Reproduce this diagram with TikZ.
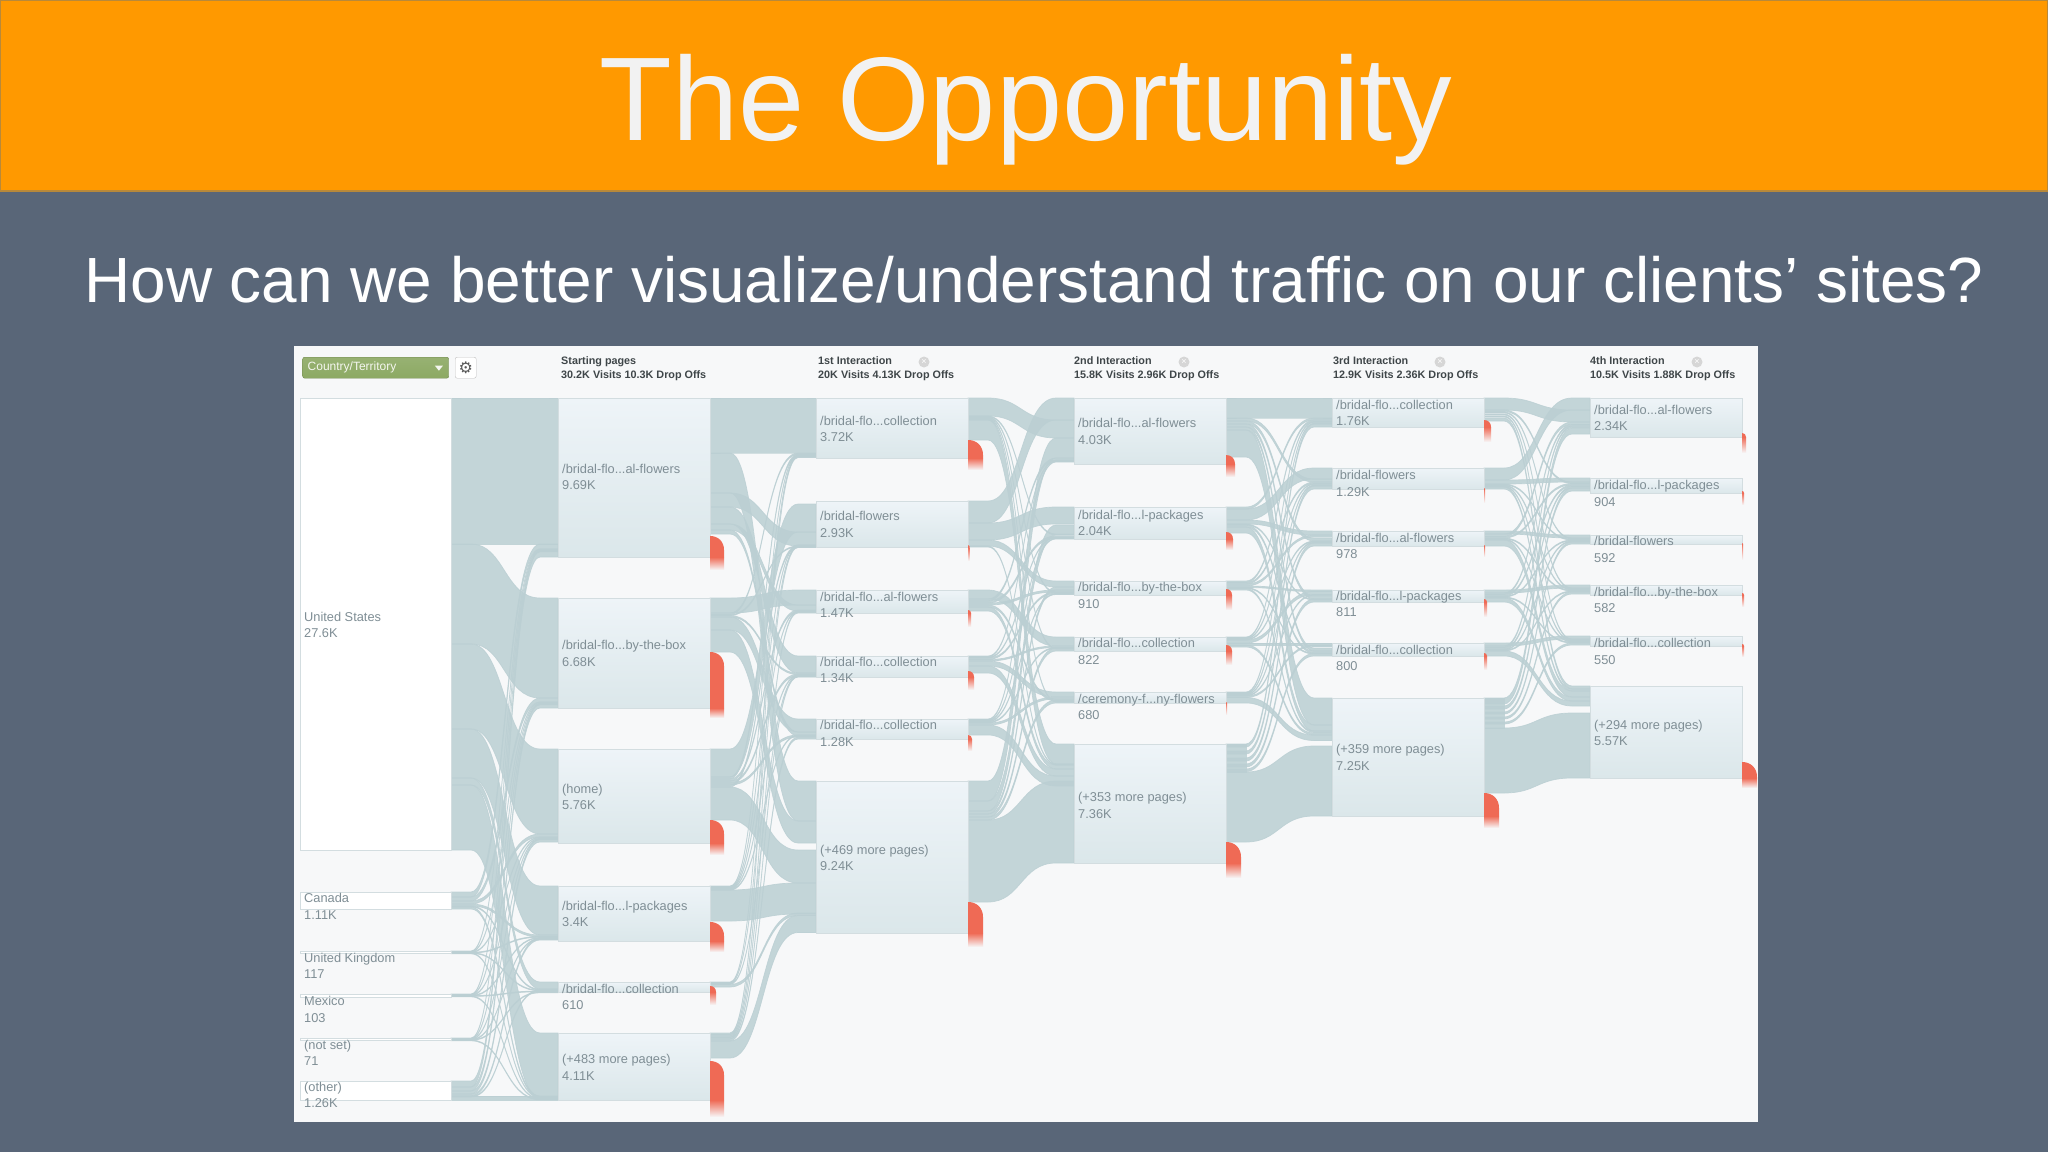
\documentclass[tikz,border=0pt]{standalone}
\usepackage{fontspec}
\setmainfont[Ligatures=NoCommon]{Liberation Sans}
\newfontfamily\symfont{DejaVu Sans}
\usetikzlibrary{calc}
\definecolor{slide}{HTML}{596678}
\definecolor{banner}{HTML}{FF9900}
\definecolor{bannerline}{HTML}{B8893A}
\definecolor{panel}{HTML}{F7F8F9}
\definecolor{flow}{HTML}{BBCFD3}
\definecolor{boxtop}{HTML}{EEF4F8}
\definecolor{boxbot}{HTML}{DBE7EA}
\definecolor{boxline}{HTML}{D3DDE0}
\definecolor{dropred}{HTML}{EF6A55}
\definecolor{pagegrey}{HTML}{7F8E95}
\definecolor{headgrey}{HTML}{3F4649}
\definecolor{pickgreen}{HTML}{8CA963}
\tikzset{
  flowfill/.style={fill=flow,draw=flow,line width=.7pt,opacity=.85},
  pagebox/.style={anchor=north west,inner sep=0pt,outer sep=0pt,minimum width=152pt,draw=boxline,top color=boxtop,bottom color=boxbot},
  countrybox/.style={pagebox,minimum width=151pt,top color=white,bottom color=white},
  pagetext/.style={anchor=west,inner sep=0pt,align=left,text=pagegrey,font=\fontsize{12.8}{16.5}\selectfont},
  headtext/.style={anchor=west,inner sep=0pt,align=left,text=headgrey,font=\bfseries\fontsize{10.8}{14}\selectfont},
  closemark/.style={circle,fill=black!16,inner sep=0pt,minimum size=11pt,text=white,font=\fontsize{9}{9}\selectfont}
}
% band from one box to a box of the next column, offsets from the box tops
\newcommand{\flowband}[5]{%
  \path[flowfill] let \p1=($(#1.north east)+(0,#2)$), \p2=($(#3.north west)+(0,#4)$), \n1={(\x1+\x2)/2} in
    (\x1,\y1) -- (\x1+20pt,\y1) .. controls (\n1,\y1) and (\n1,\y2) .. (\x2-18pt,\y2) -- (\x2,\y2)
    -- (\x2,\y2-#5pt) -- (\x2-18pt,\y2-#5pt) .. controls (\n1,\y2-#5pt) and (\n1,\y1-#5pt) .. (\x1+20pt,\y1-#5pt) -- (\x1,\y1-#5pt) -- cycle;}
\newcommand{\flowstub}[3]{\path[flowfill] ($(#1.north east)+(0,#2)$) rectangle ($(#1.north east)+(20,#3)$);}
\newcommand{\dropoff}[4]{%
  \fill[dropred] (#1.south east) -- ++(0,-#3) .. controls +(.6*#2,0) and +(0,-.6*#2) .. ++(#2,#2) -- ($(#1.south east)+(#2,0)$) -- cycle;
  \shade[top color=dropred,bottom color=panel] (#1.south east) rectangle ($(#1.south east)+(#2,#4)$);}
\newcommand{\pagenode}[7][pagebox]{%
  \node (#2) [#1,minimum height=#5pt] at (#3,#4) {};
  \node (#2t) [pagetext] at (#3+4,#6) {#7};}
\begin{document}
\begin{tikzpicture}[x=1pt,y=-1pt]
\useasboundingbox (0,0) rectangle (2048,1152);
\fill[slide] (0,0) rectangle (2048,1152);
\fill[banner] (0,0) rectangle (2048,191);
\draw[bannerline,line width=1.5pt] (.5,.5) rectangle (2047.5,191);
\node (title) [anchor=base,text=white!95!black,inner sep=0pt,font=\fontsize{119}{119}\selectfont] at (1026,140) {The Opportunity};
\node (question) [anchor=base,text=white,inner sep=0pt,font=\fontsize{63.9}{64}\selectfont] at (1034,302) {How can we better visualize/understand traffic on our clients’ sites?};
\fill[panel] (294,346) rectangle (1758,1122);
% boxes first only for their names, painted again over the bands below
\begin{scope}[opacity=0]
\node (c1) [countrybox,minimum height=452pt] at (300,398) {};
\node (c2) [countrybox,minimum height=17pt] at (300,892) {};
\node (c3) [countrybox,minimum height=2pt] at (300,951) {};
\node (c4) [countrybox,minimum height=3pt] at (300,994) {};
\node (c5) [countrybox,minimum height=2pt] at (300,1038) {};
\node (c6) [countrybox,minimum height=19pt] at (300,1081) {};
\node (s1) [pagebox,minimum height=159pt] at (558,398) {};
\node (s2) [pagebox,minimum height=110pt] at (558,598) {};
\node (s3) [pagebox,minimum height=94pt] at (558,749) {};
\node (s4) [pagebox,minimum height=55pt] at (558,886) {};
\node (s5) [pagebox,minimum height=10pt] at (558,982) {};
\node (s6) [pagebox,minimum height=67pt] at (558,1033) {};
\node (f1) [pagebox,minimum height=60pt] at (816,398) {};
\node (f2) [pagebox,minimum height=46pt] at (816,501) {};
\node (f3) [pagebox,minimum height=23pt] at (816,590) {};
\node (f4) [pagebox,minimum height=21pt] at (816,656) {};
\node (f5) [pagebox,minimum height=20pt] at (816,719) {};
\node (f6) [pagebox,minimum height=152pt] at (816,781) {};
\node (g1) [pagebox,minimum height=66pt] at (1074,398) {};
\node (g2) [pagebox,minimum height=32pt] at (1074,507) {};
\node (g3) [pagebox,minimum height=14pt] at (1074,581) {};
\node (g4) [pagebox,minimum height=14pt] at (1074,637) {};
\node (g5) [pagebox,minimum height=11pt] at (1074,692) {};
\node (g6) [pagebox,minimum height=119pt] at (1074,744) {};
\node (h1) [pagebox,minimum height=29pt] at (1332,398) {};
\node (h2) [pagebox,minimum height=21pt] at (1332,468) {};
\node (h3) [pagebox,minimum height=15pt] at (1332,531) {};
\node (h4) [pagebox,minimum height=12pt] at (1332,590) {};
\node (h5) [pagebox,minimum height=13pt] at (1332,643) {};
\node (h6) [pagebox,minimum height=118pt] at (1332,698) {};
\node (i1) [pagebox,minimum height=39pt] at (1590,398) {};
\node (i2) [pagebox,minimum height=15pt] at (1590,478) {};
\node (i3) [pagebox,minimum height=9pt] at (1590,535) {};
\node (i4) [pagebox,minimum height=10pt] at (1590,585) {};
\node (i5) [pagebox,minimum height=10pt] at (1590,636) {};
\node (i6) [pagebox,minimum height=92pt] at (1590,686) {};
\end{scope}
% countries to starting pages
\foreach \src/\so/\dst/\dof/\bw in {
  c1/0/s1/0/146, c1/146/s2/0/100, c1/246/s3/0/85, c1/331/s4/0/49, c1/380/s5/0/7, c1/387/s6/0/65,
  c2/0/s1/146/5, c2/5/s2/100/4, c2/9/s3/85/3, c2/12/s4/49/2, c2/14/s5/7/1, c2/15/s6/63/2,
  c6/0/s1/153/6, c6/6/s2/106/4, c6/10/s3/90/3, c6/13/s4/52/2, c6/15/s5/8/1, c6/15/s6/63/4}
  {\flowband{\src}{\so}{\dst}{\dof}{\bw}}
\foreach \src/\k in {c3/0,c4/1,c5/2}
  \foreach \dst/\so/\dof in {s1/0/151, s2/.4/104, s3/.8/88, s4/1.2/50.5, s5/1.6/8, s6/2/64}
    {\flowband{\src}{\so}{\dst}{\dof+\k}{.8}}
% starting pages to 1st interaction
\foreach \src/\so/\dst/\dof/\bw in {
  s1/0/f1/0/55, s1/55/f6/0/40, s1/95/f2/31/14, s1/109/f4/0/17, s1/126/f3/15/6, s1/132/f5/13/4,
  s2/0/f3/0/15, s2/15/f1/55/1.5, s2/16.5/f2/45/1, s2/17.5/f4/17/1.5, s2/19/f5/0/13, s2/32/f6/40/22,
  s3/0/f2/3/28, s3/28/f1/56/2, s3/30/f3/20/2, s3/32/f4/18/2, s3/34/f5/16/2, s3/36/f2/44/2, s3/38/f6/69/33,
  s4/0/f1/57/1, s4/.8/f2/44/1, s4/1.6/f3/21/1, s4/2.4/f4/19/1, s4/3.2/f5/16/1, s4/4/f6/102/31,
  s5/0/f1/58/.8, s5/.8/f2/45/.8, s5/1.6/f4/20/.8, s5/2.4/f6/132/2.6,
  s6/0/f1/58/1.5, s6/1.5/f2/45/1.5, s6/3/f3/21.5/1.5, s6/4.5/f4/19.5/1.5, s6/6/f5/18/2, s6/8/f6/134.5/17}
  {\flowband{\src}{\so}{\dst}{\dof}{\bw}}
% 1st to 2nd interaction
\foreach \src/\so/\dst/\dof/\bw in {
  f1/0/g1/22/18, f1/18/g2/27/1, f1/19/g3/11/1, f1/20/g4/11/1, f1/21/g5/9/1, f1/22/g6/0/20,
  f2/0/g1/0/22, f2/22/g2/0/17, f2/39/g3/0/6, f2/45/g6/20/1,
  f3/0/g4/0/9, f3/9/g1/60/2, f3/11/g2/29/2, f3/13/g3/9/2, f3/15/g5/7/2, f3/17/g6/21/4,
  f4/0/g1/62/1, f4/1/g2/30/1, f4/2/g3/11/1.5, f4/3.5/g4/9/1.5, f4/5/g5/0/5, f4/10/g6/25/7,
  f5/0/g1/63/1, f5/1/g2/31/1, f5/2/g3/12.5/1, f5/3/g4/10.5/1, f5/4/g5/5/2, f5/6/g6/32/10,
  f6/0/g1/40/20, f6/20/g2/18/10, f6/30/g3/6/3, f6/33/g4/11/3, f6/36/g5/8/3, f6/39/g6/37/82}
  {\flowband{\src}{\so}{\dst}{\dof}{\bw}}
% 2nd to 3rd interaction
\flowstub{g6}{0}{28}
\foreach \src/\so/\dst/\dof/\bw in {
  g1/0/h1/0/20, g1/20/h2/11/3, g1/23/h3/7/3, g1/26/h4/6/3, g1/29/h5/5/3, g1/32/h6/0/27,
  g2/0/h1/20/2, g2/2/h2/0/11, g2/13/h3/0/4, g2/17/h4/9/1, g2/18/h5/8/2, g2/20/h6/27/6,
  g3/0/h1/22/1.5, g3/1.5/h2/14/1.5, g3/3/h3/4/2, g3/5/h4/0/1.5, g3/6.5/h5/10/1, g3/7.5/h6/33/1.5,
  g4/0/h1/23.5/1, g4/1/h2/15.5/1, g4/2/h3/10/1, g4/3/h4/1.5/3, g4/6/h5/0/2, g4/8/h6/35/2,
  g5/0/h1/25/1, g5/1/h2/17/1, g5/2/h3/11/1, g5/3/h4/4.5/1, g5/4/h5/2/1.5, g5/5.5/h6/37/5.5,
  g6/0/h1/26/3, g6/7/h2/18/3, g6/14/h3/12/3, g6/20/h4/9/3, g6/25/h5/10.5/2.5, g6/28/h6/48/70}
  {\flowband{\src}{\so}{\dst}{\dof}{\bw}}
% 3rd to 4th interaction
\flowstub{h6}{0}{30}
\foreach \src/\so/\dst/\dof/\bw in {
  h1/0/i1/12/12, h1/12/i2/4/1.5, h1/14/i3/3/1, h1/16/i4/3/1, h1/18/i5/3/1, h1/20/i6/0/3,
  h2/0/i1/0/12, h2/12/i2/0/4, h2/16/i3/4/1, h2/17/i4/4/1, h2/18/i5/4/1, h2/19/i6/3/2,
  h3/0/i3/0/3, h3/3/i1/24/2.5, h3/5.5/i2/5.5/1.5, h3/7/i4/5/1, h3/8/i5/5/1, h3/9/i6/5/6,
  h4/0/i4/0/3, h4/3/i1/26.5/1.5, h4/4.5/i2/7/1.5, h4/6/i3/5/1, h4/7/i5/6/1, h4/8/i6/11/4,
  h5/0/i5/0/3, h5/3/i1/28/1.5, h5/4.5/i2/8.5/1.5, h5/6/i3/6/1, h5/7/i4/6/1, h5/8/i6/15/5,
  h6/0/i1/30/6, h6/8/i2/10/3, h6/14/i3/7/2, h6/19/i4/7/2, h6/24/i5/7/2, h6/30/i6/27/65}
  {\flowband{\src}{\so}{\dst}{\dof}{\bw}}
% boxes and their labels
\pagenode[countrybox]{c1}{300}{398}{452}{625}{United States\\27.6K}
\pagenode[countrybox]{c2}{300}{892}{17}{906.5}{Canada\\1.11K}
\pagenode[countrybox]{c3}{300}{951}{2}{966}{United Kingdom\\117}
\pagenode[countrybox]{c4}{300}{994}{3}{1009.5}{Mexico\\103}
\pagenode[countrybox]{c5}{300}{1038}{2}{1053}{(not set)\\71}
\pagenode[countrybox]{c6}{300}{1081}{19}{1095}{(other)\\1.26K}
\pagenode{s1}{558}{398}{159}{477}{/bridal-flo...al-flowers\\9.69K}
\pagenode{s2}{558}{598}{110}{653.5}{/bridal-flo...by-the-box\\6.68K}
\pagenode{s3}{558}{749}{94}{797}{(home)\\5.76K}
\pagenode{s4}{558}{886}{55}{914}{/bridal-flo...l-packages\\3.4K}
\pagenode{s5}{558}{982}{10}{997}{/bridal-flo...collection\\610}
\pagenode{s6}{558}{1033}{67}{1067.5}{(+483 more pages)\\4.11K}
\pagenode{f1}{816}{398}{60}{429}{/bridal-flo...collection\\3.72K}
\pagenode{f2}{816}{501}{46}{524.5}{/bridal-flowers\\2.93K}
\pagenode{f3}{816}{590}{23}{605}{/bridal-flo...al-flowers\\1.47K}
\pagenode{f4}{816}{656}{21}{670}{/bridal-flo...collection\\1.34K}
\pagenode{f5}{816}{719}{20}{733.5}{/bridal-flo...collection\\1.28K}
\pagenode{f6}{816}{781}{152}{858}{(+469 more pages)\\9.24K}
\pagenode{g1}{1074}{398}{66}{431.5}{/bridal-flo...al-flowers\\4.03K}
\pagenode{g2}{1074}{507}{32}{523}{/bridal-flo...l-packages\\2.04K}
\pagenode{g3}{1074}{581}{14}{595.5}{/bridal-flo...by-the-box\\910}
\pagenode{g4}{1074}{637}{14}{651.5}{/bridal-flo...collection\\822}
\pagenode{g5}{1074}{692}{11}{707}{/ceremony-f...ny-flowers\\680}
\pagenode{g6}{1074}{744}{119}{805.5}{(+353 more pages)\\7.36K}
\pagenode{h1}{1332}{398}{29}{413}{/bridal-flo...collection\\1.76K}
\pagenode{h2}{1332}{468}{21}{483.5}{/bridal-flowers\\1.29K}
\pagenode{h3}{1332}{531}{15}{546}{/bridal-flo...al-flowers\\978}
\pagenode{h4}{1332}{590}{12}{604}{/bridal-flo...l-packages\\811}
\pagenode{h5}{1332}{643}{13}{658}{/bridal-flo...collection\\800}
\pagenode{h6}{1332}{698}{118}{757.5}{(+359 more pages)\\7.25K}
\pagenode{i1}{1590}{398}{39}{418}{/bridal-flo...al-flowers\\2.34K}
\pagenode{i2}{1590}{478}{15}{493.5}{/bridal-flo...l-packages\\904}
\pagenode{i3}{1590}{535}{9}{549.5}{/bridal-flowers\\592}
\pagenode{i4}{1590}{585}{10}{600}{/bridal-flo...by-the-box\\582}
\pagenode{i5}{1590}{636}{10}{651.5}{/bridal-flo...collection\\550}
\pagenode{i6}{1590}{686}{92}{733}{(+294 more pages)\\5.57K}
% drop offs
\foreach \nm/\w/\h/\f in {
  s1/14/21/13, s2/14/56/10, s3/14/23/12, s4/14/19/11, s5/6/6/13, s6/14/39/17,
  f1/15/18/12, f2/1.5/2/14, f3/3/3/14, f4/6/6/13, f5/4/4/12, f6/15/31/14,
  g1/9/9/13, g2/7/7/11, g3/6/6/15, g4/6/6/14, g5/1/1/12, g6/15/21/15,
  h1/7/7/15, h2/1/1/14, h3/1/1/11, h4/3/3/15, h5/3/3/14, h6/15/23/12,
  i1/4/4/16, i2/2/2/12, i3/1/1/16, i4/2/2/12, i5/2/2/11, i6/15/16/10}
  {\dropoff{\nm}{\w}{\h}{\f}}
% column heads
\node (picker) [anchor=north west,draw=pickgreen!80!black,rounded corners=2pt,top color=pickgreen!90,bottom color=pickgreen,minimum width=146pt,minimum height=21pt,inner sep=0pt] at (302.5,357) {};
\node (pickertext) [anchor=west,inner sep=0pt,text=white!90!pickgreen,font=\fontsize{12}{12}\selectfont] at ($(picker.west)+(5,0)$) {Country/Territory};
\fill[white!90!pickgreen] ($(picker.east)+(-14,-2)$) -- ++(8,0) -- ++(-4,5) -- cycle;
\node (gear) [anchor=north west,draw=black!25,fill=white,rounded corners=2pt,minimum width=21pt,minimum height=21pt,inner sep=0pt,text=black!65,font=\symfont\fontsize{16}{16}\selectfont] at (455,357) {⚙};
\node (startinghead) [headtext] at (561,369) {Starting pages\\30.2K Visits 10.3K Drop Offs};
\node (firsthead) [headtext] at (818,369) {1st Interaction\\20K Visits 4.13K Drop Offs};
\node (secondhead) [headtext] at (1074,369) {2nd Interaction\\15.8K Visits 2.96K Drop Offs};
\node (thirdhead) [headtext] at (1333,369) {3rd Interaction\\12.9K Visits 2.36K Drop Offs};
\node (fourthhead) [headtext] at (1590,369) {4th Interaction\\10.5K Visits 1.88K Drop Offs};
\node (firstclose) [closemark] at (924,362) {×};
\node (secondclose) [closemark] at (1184,362) {×};
\node (thirdclose) [closemark] at (1440,362) {×};
\node (fourthclose) [closemark] at (1697,362) {×};
\end{tikzpicture}
\end{document}
